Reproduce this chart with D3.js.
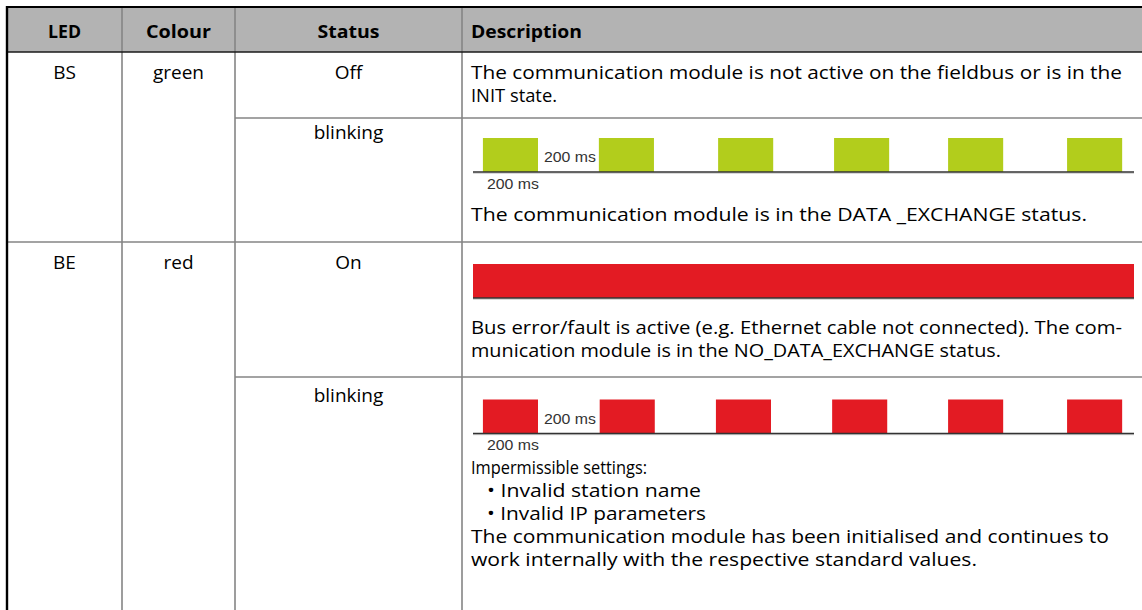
<!DOCTYPE html>
<html><head><meta charset="utf-8">
<script src="https://cdn.jsdelivr.net/npm/d3@7"></script>
<style>
html,body{margin:0;padding:0;background:#fff;}
svg{display:block;}
text{font-family:"Open Sans","Noto Sans",sans-serif;fill:#000;}
</style></head>
<body><svg id="c" width="1142" height="610"></svg>
<script>
// ---- data ----
const headers = ["LED", "Colour", "Status", "Description"];
const ledNames = ["BS", "BE"];
const ledColours = ["green", "red"];
const statuses = ["Off", "blinking", "On", "blinking"];
const indicator = ["none", "blink", "on", "blink"];
const descriptions = [
  ["The communication module is not active on the fieldbus or is in the", "INIT state."],
  ["The communication module is in the DATA _EXCHANGE status."],
  ["Bus error/fault is active (e.g. Ethernet cable not connected). The com-", "munication module is in the NO_DATA_EXCHANGE status."],
  ["Impermissible settings:", "\u2022 Invalid station name", "\u2022 Invalid IP parameters", "The communication module has been initialised and continues to", "work internally with the respective standard values."]
];
const greenPulseStarts = [36, 457, 890, 1311, 1725, 2157];   // ms
const redPulseStarts   = [36, 460, 882, 1304, 1725, 2157];   // ms
const pulseDuration = 200;  // ms
const timeSpan = [0, 2400]; // ms
const msLabel = "200 ms";
const ledFill = {green: "#b2cd1c", red: "#e31b23"};

// ---- layout ----
const svg = d3.select("#c");
const colX = [7, 122, 235, 462, 1142];
const rowY = [7, 52, 118, 242, 377, 610];
const gridColor = "#858585";
const bodySize = 18.5;

svg.append("rect").attr("x", colX[0]).attr("y", rowY[0]).attr("width", colX[4]-colX[0]).attr("height", rowY[1]-rowY[0]).attr("fill", "#b3b3b3");

const hdrBaseline = 38;
const hdrWidths = [33, 65, 62, 111];
headers.forEach((h, i) => {
  const t = svg.append("text").attr("y", hdrBaseline).attr("font-weight", 700).attr("font-size", 18.5)
    .attr("textLength", hdrWidths[i]).attr("lengthAdjust", "spacingAndGlyphs").text(h);
  if (i < 3) t.attr("x", (colX[i]+colX[i+1])/2).attr("text-anchor", "middle");
  else t.attr("x", 471);
});

const g = svg.append("g").attr("stroke", gridColor).attr("stroke-width", 1.6).attr("fill", "none");
[1,2,3].forEach(i => g.append("line").attr("x1", colX[i]).attr("x2", colX[i]).attr("y1", rowY[0]).attr("y2", 610));
g.append("line").attr("x1", colX[2]).attr("x2", colX[4]).attr("y1", rowY[2]).attr("y2", rowY[2]);
g.append("line").attr("x1", colX[0]).attr("x2", colX[4]).attr("y1", rowY[3]).attr("y2", rowY[3]);
g.append("line").attr("x1", colX[2]).attr("x2", colX[4]).attr("y1", rowY[4]).attr("y2", rowY[4]);
svg.append("line").attr("x1", colX[0]).attr("x2", colX[4]).attr("y1", rowY[0]).attr("y2", rowY[0]).attr("stroke", "#000").attr("stroke-width", 2.2);
svg.append("line").attr("x1", colX[0]).attr("x2", colX[4]).attr("y1", rowY[1]).attr("y2", rowY[1]).attr("stroke", "#1a1a1a").attr("stroke-width", 1.6);
svg.append("line").attr("x1", colX[0]).attr("x2", colX[0]).attr("y1", rowY[0]-1).attr("y2", 610).attr("stroke", "#000").attr("stroke-width", 2.4);

const ledBaselines = [79, 268.5];
ledNames.forEach((n, i) => {
  svg.append("text").attr("x", (colX[0]+colX[1])/2).attr("y", ledBaselines[i]).attr("text-anchor", "middle").attr("font-size", 19).text(n);
  svg.append("text").attr("x", (colX[1]+colX[2])/2).attr("y", ledBaselines[i]).attr("text-anchor", "middle").attr("font-size", 19).text(ledColours[i]);
});

const statusBaselines = [79, 139, 268.5, 402];
statuses.forEach((s, i) => {
  svg.append("text").attr("x", (colX[2]+colX[3])/2).attr("y", statusBaselines[i]).attr("text-anchor", "middle").attr("font-size", 19).text(s);
});

const descBaselines = [[79, 102], [221], [334, 357], [474, 497, 520, 543, 566]];
const descWidths = [[651, 86], [616], [651, 530], [176, 214, 219, 638, 506]];
const descX = [[471, 471], [471], [471, 471], [471, 487, 487, 471, 471]];
descriptions.forEach((lines, i) => {
  lines.forEach((ln, j) => {
    svg.append("text").attr("x", descX[i][j]).attr("y", descBaselines[i][j]).attr("font-size", bodySize)
      .attr("textLength", descWidths[i][j]).attr("lengthAdjust", "spacingAndGlyphs").text(ln);
  });
});

// ---- LED timing diagrams ----
const x = d3.scaleLinear().domain(timeSpan).range([473, 1134]);
function drawTrack(baseY, kind, colour, starts) {
  const y = d3.scaleLinear().domain([0, 1]).range([baseY, baseY - 34]);
  const grp = svg.append("g");
  if (kind === "on") {
    grp.append("rect").attr("x", x(timeSpan[0])).attr("y", y(1)).attr("width", x(timeSpan[1]) - x(timeSpan[0])).attr("height", y(0) - y(1)).attr("fill", ledFill[colour]);
  } else {
    grp.selectAll("rect").data(starts).join("rect")
      .attr("x", d => x(d)).attr("y", y(1))
      .attr("width", d => x(d + pulseDuration) - x(d)).attr("height", y(0) - y(1))
      .attr("fill", ledFill[colour]);
    grp.append("text").attr("x", x(starts[0] + pulseDuration) + 6).attr("y", baseY - 10).attr("font-size", 14)
      .attr("textLength", 52).attr("lengthAdjust", "spacingAndGlyphs").style("font-family", "Liberation Sans, Arial, sans-serif").style("fill", "#333").text(msLabel);
    grp.append("text").attr("x", x(starts[0]) + 4).attr("y", baseY + 16.5).attr("font-size", 14)
      .attr("textLength", 52).attr("lengthAdjust", "spacingAndGlyphs").style("font-family", "Liberation Sans, Arial, sans-serif").style("fill", "#333").text(msLabel);
  }
  grp.append("line").attr("x1", x(timeSpan[0])).attr("x2", x(timeSpan[1])).attr("y1", baseY + 1.2).attr("y2", baseY + 1.2).attr("stroke", "#c8c8c8").attr("stroke-width", 1);
  grp.append("line").attr("x1", x(timeSpan[0])).attr("x2", x(timeSpan[1])).attr("y1", baseY).attr("y2", baseY).attr("stroke", "#333").attr("stroke-width", 1.6);
}
drawTrack(172, "blink", "green", greenPulseStarts);
drawTrack(298, "on", "red", null);
drawTrack(433.5, "blink", "red", redPulseStarts);
</script></body></html>
